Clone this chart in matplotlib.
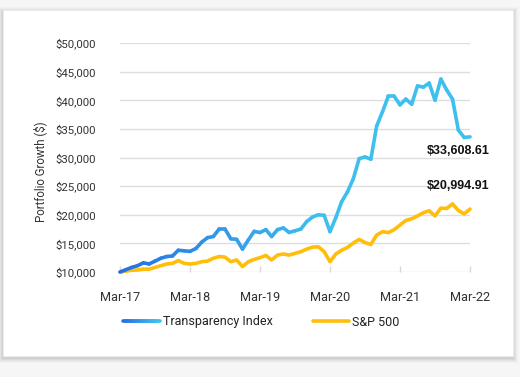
import numpy as np
import matplotlib
matplotlib.use("Agg")
import matplotlib.pyplot as plt
from matplotlib.collections import LineCollection
from matplotlib.patches import FancyBboxPatch
from matplotlib.legend_handler import HandlerBase
from matplotlib.lines import Line2D
import matplotlib.colors as mcolors

# ---------------- data ----------------
tick_labels = ["Mar-17", "Mar-18", "Mar-19", "Mar-20", "Mar-21", "Mar-22"]
transparency = [
    10000, 10400, 10800, 11100, 11600, 11400, 11900, 12400, 12700, 12800,
    13800, 13700, 13600, 14100, 15200, 16000, 16200, 17500, 17500, 15800,
    15700, 14000, 15600, 17100, 16900, 17400, 16200, 17400, 17700, 16900,
    17200, 17500, 18800, 19600, 20000, 19900, 17050, 19500, 22300, 24000,
    26300, 29800, 30100, 29700, 35500, 38000, 40700, 40700, 39200, 40200,
    39300, 42500, 42300, 43000, 40000, 43700, 41800, 40200, 34800, 33500,
    33608.61,
]
sp500 = [
    10000, 10150, 10300, 10350, 10500, 10500, 10800, 11100, 11400, 11500,
    12000, 11500, 11400, 11500, 11800, 11900, 12400, 12700, 12600, 11800,
    12100, 10950, 11800, 12200, 12500, 12900, 12100, 12950, 13150, 12950,
    13250, 13550, 14000, 14350, 14400, 13550, 11800, 13150, 13800, 14300,
    15050, 15700, 15150, 14800, 16450, 17050, 16880, 17400, 18200, 19000,
    19300, 19800, 20350, 20700, 19800, 21150, 21100, 21900, 20750, 20150,
    20994.91,
]
series_names = ["Transparency Index", "S&P 500"]
months = np.arange(len(transparency))

BLUE_DARK = "#2670e4"
BLUE_LIGHT = "#3ec0ee"
GOLD = "#ffbe0a"

W, H = 520, 377
fig = plt.figure(figsize=(W / 100, H / 100), dpi=100)
fig.patch.set_facecolor("#f6f6f7")

# card with soft shadow
cx0, cy0, cx1, cy1 = 3, 10, 513, 356  # pixels from top-left
for i, a in enumerate([0.02, 0.025, 0.03, 0.035, 0.04]):
    g = 5 - i
    fig.add_artist(FancyBboxPatch(((cx0 - g) / W, 1 - (cy1 + g + 2) / H),
                                  (cx1 - cx0 + 2 * g) / W, (cy1 - cy0 + 2 * g) / H,
                                  boxstyle="square,pad=0", transform=fig.transFigure,
                                  facecolor="#000000", alpha=a, edgecolor="none", zorder=0))
fig.add_artist(FancyBboxPatch((cx0 / W, 1 - cy1 / H), (cx1 - cx0) / W, (cy1 - cy0) / H,
                              boxstyle="square,pad=0", transform=fig.transFigure,
                              facecolor="white", edgecolor="#ececec", linewidth=0.6, zorder=0.5))

ax = fig.add_axes([120 / W, 105 / H, 350 / W, 229 / H])
ax.set_facecolor("none")
ax.set_zorder(2)

# gradient helper
cmap = mcolors.LinearSegmentedColormap.from_list("bl", [BLUE_DARK, BLUE_LIGHT])

def grad_colors(n, ramp):
    t = np.clip(np.arange(n) / ramp, 0, 1)
    return cmap(t)

# Transparency Index (gradient line)
pts = np.column_stack([months, transparency])
segs = np.stack([pts[:-1], pts[1:]], axis=1)
lc = LineCollection(segs, colors=grad_colors(len(segs), 34), linewidths=2.6,
                    capstyle="round", joinstyle="round", zorder=4)
lc.set_clip_on(False)
ax.add_collection(lc)

# S&P 500
ax.plot(months, sp500, color=GOLD, lw=2.6, solid_joinstyle="round",
        solid_capstyle="round", zorder=3, clip_on=False)

ax.set_xlim(0, 60)
ax.set_ylim(10000, 50000)
ax.set_yticks(np.arange(10000, 50001, 5000))
ax.set_yticklabels([f"${v:,.0f}" for v in np.arange(10000, 50001, 5000)])
ax.set_xticks(np.arange(0, 61, 12))
ax.set_xticklabels(tick_labels)

ax.grid(axis="y", color="#dedede", lw=1.0, zorder=0)
for s in ax.spines.values():
    s.set_visible(False)
ax.tick_params(axis="y", length=0, pad=17, labelsize=8.2, labelcolor="#333333")
ax.tick_params(axis="x", length=4, direction="in", color="#d8d8d8", width=1,
               pad=14, labelsize=9.2, labelcolor="#333333")
for lab in ax.get_xticklabels() + ax.get_yticklabels():
    lab.set_fontfamily("Roboto")

fig.text(40 / W, 1 - 172 / H, "Portfolio Growth ($)", rotation=90, ha="center",
         va="center", rotation_mode="anchor", fontsize=8.3, color="#333333",
         family="Roboto")

# end-value annotations
ax.annotate(f"${transparency[-1]:,.2f}", xy=(months[-1], transparency[-1]),
            xytext=(-43, -14), textcoords="offset pixels", ha="left", va="center",
            fontsize=9.0, fontweight="bold", family="Liberation Sans", color="#111111")
ax.annotate(f"${sp500[-1]:,.2f}", xy=(months[-1], sp500[-1]),
            xytext=(-43, 23), textcoords="offset pixels", ha="left", va="center",
            fontsize=9.0, fontweight="bold", family="Liberation Sans", color="#111111")

# legend with gradient handle
class GradHandler(HandlerBase):
    def create_artists(self, legend, orig, xd, yd, width, height, fontsize, trans):
        n = 20
        x = np.linspace(-xd, -xd + width, n + 1)
        y = np.full_like(x, height / 2 - yd)
        p = np.column_stack([x, y])
        sg = np.stack([p[:-1], p[1:]], axis=1)
        c = LineCollection(sg, colors=cmap(np.linspace(0, 1, n)), linewidths=2.6,
                           capstyle="round", transform=trans)
        return [c]

h_blue = Line2D([], [], color=BLUE_LIGHT, lw=2.6)
h_gold = Line2D([], [], color=GOLD, lw=2.6, solid_capstyle="round")
leg = fig.legend([h_blue, h_gold], series_names, loc="center left",
                 bbox_to_anchor=(123 / W, 1 - 322 / H), ncol=2, frameon=False,
                 borderaxespad=0, borderpad=0,
                 handlelength=2.95, handletextpad=0.22, columnspacing=3.2,
                 handler_map={h_blue: GradHandler()},
                 prop={"family": "Roboto", "size": 9})
for t in leg.get_texts():
    t.set_color("#222222")

fig.savefig("out.png", dpi=100, facecolor=fig.get_facecolor())
